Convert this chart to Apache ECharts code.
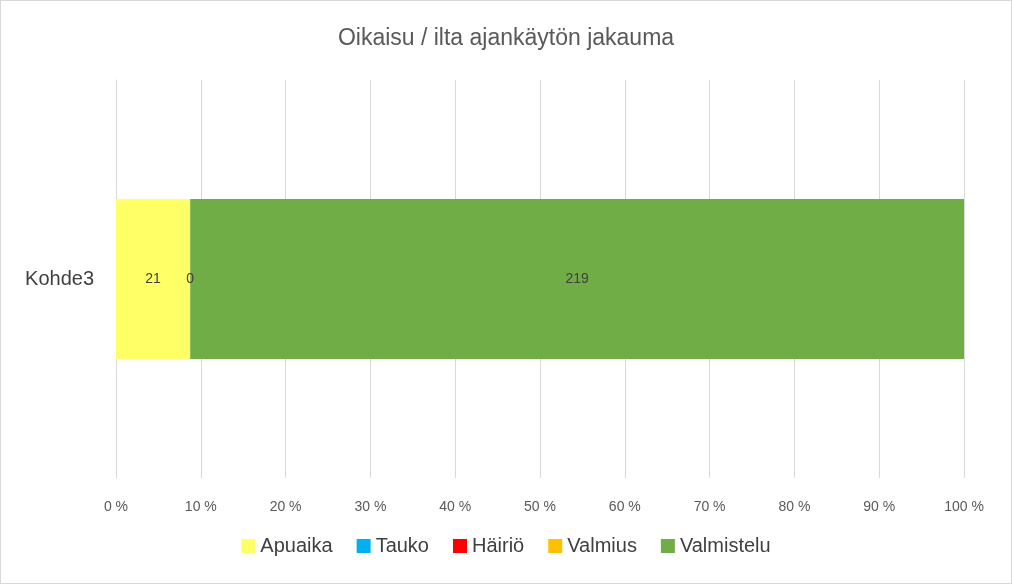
<!DOCTYPE html>
<html><head><meta charset="utf-8">
<script src="https://cdn.jsdelivr.net/npm/echarts@6/dist/echarts.min.js"></script>
<style>html,body{margin:0;padding:0;background:#fff}#c{width:1012px;height:584px;box-sizing:border-box;border:1px solid #D9D9D9}</style>
</head><body><div id="c"></div>
<script>
const categories = ['Kohde3'];
const seriesNames = ['Apuaika','Tauko','Häiriö','Valmius','Valmistelu'];
const seriesColors = ['#FFFF66','#00B0F0','#FF0000','#FFC000','#70AD47'];
const apuaika = [21];
const tauko = [0];
const hairio = [0];
const valmius = [0];
const valmistelu = [219];
const showLabel = [true,true,false,false,true];
const raw = [apuaika,tauko,hairio,valmius,valmistelu];
const totals = categories.map((_,i)=>raw.reduce((s,a)=>s+a[i],0));
const chart = echarts.init(document.getElementById('c'));
chart.setOption({
  animation:false,
  title:{text:'Oikaisu / ilta ajankäytön jakauma',left:'center',top:21,textStyle:{fontFamily:'Liberation Sans',fontSize:23,fontWeight:'normal',color:'#595959'}},
  grid:{left:115,right:47,top:79,bottom:105},
  xAxis:{type:'value',min:0,max:100,interval:10,axisLine:{show:false},axisTick:{show:false},
    splitLine:{lineStyle:{color:'#D9D9D9'}},
    axisLabel:{formatter:v=>v+' %',color:'#595959',fontSize:14,margin:22,fontFamily:'Liberation Sans'}},
  yAxis:{type:'category',data:categories,axisLine:{lineStyle:{color:'#D9D9D9'}},axisTick:{show:false},
    axisLabel:{color:'#404040',fontSize:20,margin:22,fontFamily:'Liberation Sans'}},
  legend:{bottom:22,left:'center',itemWidth:14,itemHeight:14,itemGap:24,icon:'rect',
    textStyle:{fontSize:20,color:'#404040',fontFamily:'Liberation Sans'},data:seriesNames},
  series:seriesNames.map((n,k)=>({
    name:n,type:'bar',stack:'a',barWidth:160,
    itemStyle:{color:seriesColors[k]},
    data:raw[k].map((v,i)=>v/totals[i]*100),
    label:{show:showLabel[k],position:'inside',color:'#404040',fontSize:14,fontFamily:'Liberation Sans',
      formatter:p=>String(raw[k][p.dataIndex])}
  }))
});
</script></body></html>
